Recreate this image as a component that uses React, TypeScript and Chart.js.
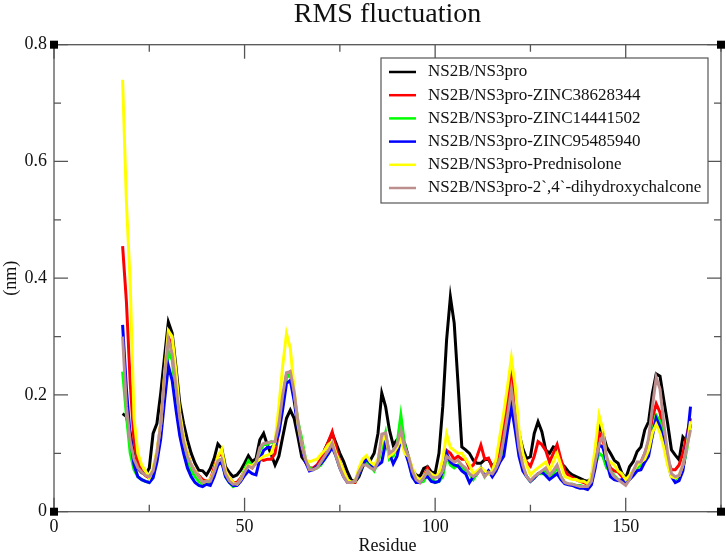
import { useEffect, useRef } from 'react';
import { Chart, registerables } from 'chart.js';

Chart.register(...registerables);

const firstResidue = 18;

const chartTitle = 'RMS fluctuation';

const seriesNames = [
  'NS2B/NS3pro',
  'NS2B/NS3pro-ZINC38628344',
  'NS2B/NS3pro-ZINC14441502',
  'NS2B/NS3pro-ZINC95485940',
  'NS2B/NS3pro-Prednisolone',
  'NS2B/NS3pro-2`,4`-dihydroxychalcone',
];

const seriesColors = ['#000000', '#ff0000', '#00ff00', '#0000ff', '#ffff00', '#bc8f8f'];

const apo = [
  .168, .163, .134, .094, .074, .067, .063, .075, .134, .151,
  .203, .265, .325, .306, .248, .186, .151, .123, .100, .083,
  .071, .070, .063, .074, .091, .116, .108, .077, .067, .060,
  .063, .071, .083, .096, .086, .091, .123, .134, .114, .098,
  .080, .095, .128, .160, .174, .160, .128, .094, .085, .074,
  .074, .077, .088, .106, .120, .134, .117, .100, .086, .068,
  .054, .051, .060, .077, .088, .088, .100, .134, .203, .180,
  .140, .114, .123, .128, .117, .094, .071, .063, .060, .074,
  .077, .068, .066, .100, .180, .294, .368, .323, .220, .111,
  .106, .100, .088, .083, .083, .089, .090, .078, .085, .100,
  .140, .190, .231, .180, .134, .108, .091, .094, .134, .154,
  .137, .106, .100, .111, .108, .083, .077, .068, .063, .060,
  .057, .054, .052, .057, .094, .148, .134, .111, .100, .088,
  .083, .066, .057, .077, .086, .103, .111, .140, .154, .203,
  .236, .232, .191, .151, .106, .097, .089, .128, .120, .150,
];

const zinc38628344 = [
  .455, .36, .22, .12, .085, .07, .062, .058, .07, .10,
  .15, .23, .30, .28, .22, .16, .125, .10, .08, .07,
  .062, .055, .052, .055, .075, .095, .10, .07, .058, .05,
  .05, .058, .07, .08, .075, .085, .09, .088, .09, .09,
  .10, .14, .19, .235, .24, .20, .15, .11, .085, .075,
  .075, .08, .09, .105, .12, .137, .11, .085, .07, .055,
  .05, .05, .07, .085, .09, .08, .075, .085, .12, .13,
  .10, .10, .105, .13, .11, .09, .065, .055, .05, .06,
  .075, .06, .06, .065, .08, .105, .10, .09, .095, .09,
  .09, .075, .08, .095, .114, .09, .092, .075, .08, .10,
  .14, .19, .23, .185, .13, .095, .085, .078, .095, .12,
  .115, .105, .085, .10, .115, .09, .07, .062, .058, .055,
  .052, .05, .047, .055, .095, .135, .125, .09, .075, .07,
  .068, .06, .052, .06, .07, .08, .085, .10, .12, .16,
  .185, .17, .135, .09, .072, .072, .08, .10, .13, .16,
];

const zinc14441502 = [
  .24, .165, .10, .072, .06, .055, .052, .05, .06, .09,
  .14, .21, .275, .26, .20, .15, .11, .085, .07, .06,
  .052, .047, .047, .05, .065, .088, .09, .06, .05, .043,
  .047, .055, .072, .087, .078, .085, .105, .115, .115, .12,
  .115, .14, .19, .23, .235, .20, .155, .125, .09, .075,
  .072, .075, .08, .09, .10, .115, .095, .075, .065, .055,
  .05, .052, .065, .08, .085, .078, .07, .085, .11, .135,
  .09, .095, .115, .165, .115, .09, .06, .052, .05, .052,
  .065, .058, .05, .052, .06, .095, .08, .075, .08, .075,
  .07, .065, .055, .065, .075, .06, .07, .065, .075, .09,
  .115, .155, .19, .15, .105, .075, .06, .052, .058, .065,
  .065, .07, .06, .065, .075, .06, .05, .047, .047, .045,
  .045, .043, .042, .05, .08, .10, .095, .075, .07, .062,
  .055, .052, .048, .055, .065, .075, .08, .09, .105, .135,
  .165, .155, .125, .085, .062, .055, .06, .075, .105, .15,
];

const zinc95485940 = [
  .32, .21, .13, .08, .06, .055, .052, .05, .058, .085,
  .125, .19, .25, .225, .175, .13, .10, .075, .06, .05,
  .045, .043, .047, .045, .06, .08, .085, .06, .05, .045,
  .045, .052, .062, .07, .065, .063, .09, .105, .11, .11,
  .115, .135, .175, .22, .225, .19, .145, .11, .085, .07,
  .072, .078, .082, .09, .10, .11, .095, .075, .06, .05,
  .05, .052, .065, .08, .09, .083, .075, .08, .085, .118,
  .10, .082, .095, .125, .105, .085, .06, .05, .05, .058,
  .06, .052, .05, .052, .07, .10, .085, .08, .078, .07,
  .065, .05, .06, .065, .075, .062, .07, .06, .07, .085,
  .095, .14, .18, .14, .095, .07, .06, .052, .058, .065,
  .068, .062, .055, .06, .065, .055, .048, .046, .045, .042,
  .04, .04, .038, .046, .075, .115, .11, .085, .06, .055,
  .053, .055, .05, .055, .062, .07, .072, .085, .095, .13,
  .16, .145, .12, .085, .06, .05, .053, .07, .115, .18,
];

const prednisolone = [
  .74, .53, .39, .16, .10, .08, .07, .058, .075, .105,
  .15, .235, .31, .30, .24, .17, .13, .10, .08, .07,
  .06, .05, .052, .055, .07, .095, .107, .07, .058, .05,
  .047, .055, .07, .08, .078, .085, .09, .095, .097, .10,
  .12, .18, .25, .305, .28, .21, .15, .115, .09, .085,
  .088, .09, .098, .105, .115, .12, .10, .085, .07, .055,
  .05, .052, .075, .09, .096, .085, .08, .09, .12, .13,
  .095, .10, .11, .125, .10, .095, .075, .06, .055, .06,
  .07, .065, .06, .065, .09, .133, .11, .105, .10, .10,
  .09, .08, .065, .07, .075, .07, .065, .07, .09, .13,
  .17, .215, .263, .215, .14, .10, .08, .063, .07, .075,
  .08, .085, .07, .085, .10, .08, .06, .058, .055, .055,
  .052, .052, .048, .06, .11, .165, .14, .09, .085, .08,
  .07, .065, .055, .062, .07, .08, .085, .09, .105, .135,
  .15, .135, .11, .08, .06, .058, .062, .08, .11, .155,
];

const dihydroxychalcone = [
  .30, .18, .12, .09, .075, .068, .062, .06, .07, .10,
  .15, .23, .295, .27, .215, .16, .12, .095, .08, .068,
  .06, .05, .052, .052, .068, .087, .09, .065, .053, .047,
  .048, .055, .068, .078, .075, .083, .11, .117, .118, .12,
  .12, .15, .20, .238, .24, .205, .155, .115, .09, .072,
  .072, .075, .085, .095, .105, .117, .095, .075, .06, .05,
  .05, .052, .068, .08, .08, .075, .072, .085, .133, .135,
  .10, .105, .115, .14, .11, .095, .07, .055, .05, .058,
  .07, .06, .058, .06, .07, .095, .09, .085, .088, .08,
  .075, .065, .06, .065, .072, .06, .068, .065, .075, .09,
  .125, .165, .21, .165, .11, .08, .06, .053, .06, .065,
  .07, .075, .063, .07, .08, .06, .05, .048, .047, .045,
  .043, .043, .043, .052, .085, .115, .13, .095, .07, .06,
  .055, .05, .045, .055, .07, .085, .085, .10, .125, .18,
  .23, .21, .15, .10, .065, .06, .062, .08, .11, .14,
];

const allSeries = [apo, zinc38628344, zinc14441502, zinc95485940, prednisolone, dihydroxychalcone];

const FONT = '"Liberation Serif", serif';
const AXIS_COLOR = '#555555';
const TEXT_COLOR = '#111111';

// title is centred over the plot area, not over the canvas
const plotTitlePlugin = {
  id: 'plotTitle',
  afterDraw(chart) {
    const { ctx, chartArea: a } = chart;
    ctx.save();
    ctx.fillStyle = TEXT_COLOR;
    ctx.font = '28px ' + FONT;
    ctx.textAlign = 'center';
    ctx.textBaseline = 'alphabetic';
    ctx.fillText(chartTitle, (a.left + a.right) / 2, 22);
    ctx.restore();
  },
};

// xmgrace style frame: ticks point inward on all four sides, corner handles on top
const framePlugin = {
  id: 'frame',
  afterDatasetsDraw(chart) {
    const { ctx, chartArea: a, scales } = chart;
    ctx.save();
    ctx.strokeStyle = AXIS_COLOR;
    ctx.lineWidth = 1.3;
    ctx.strokeRect(a.left, a.top, a.right - a.left, a.bottom - a.top);

    ctx.beginPath();
    scales.x.ticks.forEach((t) => {
      const x = scales.x.getPixelForValue(t.value);
      const len = t.value % 50 === 0 ? 14 : 7;
      ctx.moveTo(x, a.bottom);
      ctx.lineTo(x, a.bottom - len);
      ctx.moveTo(x, a.top);
      ctx.lineTo(x, a.top + len);
    });
    scales.y.ticks.forEach((t) => {
      const y = scales.y.getPixelForValue(t.value);
      const len = Math.round(t.value * 10) % 2 === 0 ? 14 : 7;
      ctx.moveTo(a.left, y);
      ctx.lineTo(a.left + len, y);
      ctx.moveTo(a.right, y);
      ctx.lineTo(a.right - len, y);
    });
    ctx.stroke();

    ctx.fillStyle = '#000000';
    [[a.left, a.top], [a.right, a.top], [a.left, a.bottom], [a.right, a.bottom]].forEach(([x, y]) => {
      ctx.fillRect(x - 4, y - 4, 8, 8);
    });
    ctx.restore();
  },
};

// legend box sits inside the plot, top right, with its own border
const legendBoxPlugin = {
  id: 'legendBox',
  afterDatasetsDraw(chart) {
    const { ctx } = chart;
    const left = 381;
    const top = 58;
    const width = 327;
    const height = 145;
    ctx.save();
    ctx.fillStyle = '#ffffff';
    ctx.fillRect(left, top, width, height);
    ctx.strokeStyle = AXIS_COLOR;
    ctx.lineWidth = 1.2;
    ctx.strokeRect(left, top, width, height);
    ctx.font = '17px ' + FONT;
    ctx.textBaseline = 'middle';
    chart.data.datasets.forEach((ds, i) => {
      const y = top + 14 + i * 23.2;
      ctx.strokeStyle = ds.borderColor;
      ctx.lineWidth = 2.5;
      ctx.beginPath();
      ctx.moveTo(left + 8, y);
      ctx.lineTo(left + 35, y);
      ctx.stroke();
      ctx.fillStyle = TEXT_COLOR;
      ctx.fillText(ds.label, left + 47, y);
    });
    ctx.restore();
  },
};

const App = () => {
  const canvasRef = useRef(null);

  useEffect(() => {
    const chart = new Chart(canvasRef.current.getContext('2d'), {
      type: 'line',
      data: {
        datasets: seriesNames.map((name, i) => ({
          label: name,
          data: allSeries[i].map((v, j) => ({ x: firstResidue + j, y: v })),
          borderColor: seriesColors[i],
          borderWidth: 3,
          pointRadius: 0,
          tension: 0,
          order: seriesNames.length - i,
        })),
      },
      options: {
        responsive: false,
        animation: false,
        layout: { padding: { left: 0, right: 5, top: 44.7, bottom: 0 } },
        plugins: {
          legend: { display: false },
          tooltip: { enabled: false },
        },
        scales: {
          x: {
            type: 'linear',
            min: 0,
            max: 175,
            grid: { display: false, drawTicks: false, tickLength: 0 },
            border: { display: false },
            afterFit: (s) => { s.height = 41.3; },
            title: {
              display: true,
              text: 'Residue',
              color: TEXT_COLOR,
              font: { family: FONT, size: 18 },
              padding: { top: 0, bottom: -4 },
            },
            ticks: {
              stepSize: 25,
              autoSkip: false,
              maxRotation: 0,
              padding: 5,
              color: TEXT_COLOR,
              font: { family: FONT, size: 18 },
              callback: (v) => (v % 50 === 0 ? String(v) : ''),
            },
          },
          y: {
            min: 0,
            max: 0.8,
            grid: { display: false, drawTicks: false, tickLength: 0 },
            border: { display: false },
            afterFit: (s) => { s.width = 54; },
            title: {
              display: true,
              text: '(nm)',
              color: TEXT_COLOR,
              font: { family: FONT, size: 18 },
              padding: 0,
            },
            ticks: {
              stepSize: 0.1,
              autoSkip: false,
              padding: 7,
              color: TEXT_COLOR,
              font: { family: FONT, size: 18 },
              callback: (v) => {
                const n = Math.round(v * 10);
                if (n % 2 !== 0) return '';
                return n === 0 ? '0' : (n / 10).toFixed(1);
              },
            },
          },
        },
      },
      plugins: [framePlugin, legendBoxPlugin, plotTitlePlugin],
    });

    return () => {
      chart.destroy();
    };
  }, []);

  return (
    <canvas
      ref={canvasRef}
      width={726}
      height={553}
      style={{ position: 'absolute', left: 0, top: 0 }}
    ></canvas>
  );
};

export default App;
